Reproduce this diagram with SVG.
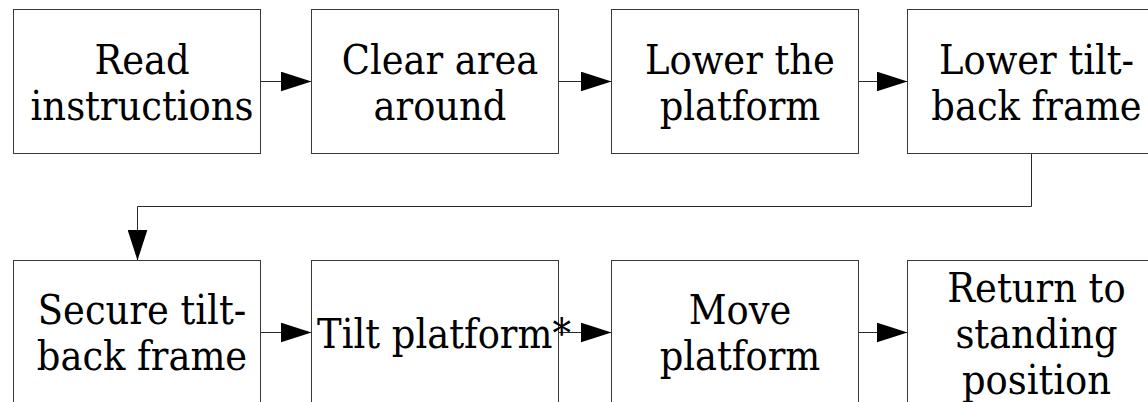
<svg xmlns="http://www.w3.org/2000/svg" width="1148" height="402" viewBox="0 0 1148 402">
  <style>
    .box { fill: #ffffff; stroke: #3a3a3a; stroke-width: 1; }
    .lbl { font-family: 'DejaVu Serif Condensed', 'DejaVu Serif', serif; font-stretch: condensed; font-size: 41px; fill: #000000; text-anchor: middle; }
    .link { fill: none; stroke: #2a2a2a; stroke-width: 1; }
  </style>
  <defs>
    <marker id="arrow" markerUnits="userSpaceOnUse" viewBox="0 0 31 20" markerWidth="31" markerHeight="20" refX="31" refY="10" orient="auto">
      <path d="M0,0 L31,10 L0,20 Z" fill="#000000"/>
    </marker>
  </defs>
  <rect width="1148" height="402" fill="#ffffff"/>

  <!-- connectors -->
  <g id="connectors">
    <path class="link" d="M260.5,81.5 H311.5" marker-end="url(#arrow)"/>
    <path class="link" d="M558.5,81.5 H611.5" marker-end="url(#arrow)"/>
    <path class="link" d="M858.5,81.5 H907.5" marker-end="url(#arrow)"/>
    <path class="link" d="M1031.5,153.5 V206.5 H137.5 V260.5" marker-end="url(#arrow)"/>
    <path class="link" d="M260.5,332.5 H311.5" marker-end="url(#arrow)"/>
    <path class="link" d="M558.5,332.5 H611.5" marker-end="url(#arrow)"/>
    <path class="link" d="M858.5,332.5 H907.5" marker-end="url(#arrow)"/>
  </g>

  <!-- top row -->
  <g id="read-instructions">
    <rect class="box" x="13.5" y="9.5" width="247" height="144"/>
    <text class="lbl" x="142" y="74">Read</text>
    <text class="lbl" x="142" y="120">instructions</text>
  </g>
  <g id="clear-area">
    <rect class="box" x="311.5" y="9.5" width="247" height="144"/>
    <text class="lbl" x="440" y="74">Clear area</text>
    <text class="lbl" x="440" y="120">around</text>
  </g>
  <g id="lower-platform">
    <rect class="box" x="611.5" y="9.5" width="247" height="144"/>
    <text class="lbl" x="740" y="74">Lower the</text>
    <text class="lbl" x="740" y="120">platform</text>
  </g>
  <g id="lower-frame">
    <rect class="box" x="907.5" y="9.5" width="247" height="144"/>
    <text class="lbl" x="1036.5" y="74">Lower tilt-</text>
    <text class="lbl" x="1036.5" y="120">back frame</text>
  </g>

  <!-- bottom row -->
  <g id="secure-frame">
    <rect class="box" x="13.5" y="260.5" width="247" height="144"/>
    <text class="lbl" x="142" y="324">Secure tilt-</text>
    <text class="lbl" x="142" y="370">back frame</text>
  </g>
  <g id="tilt-platform">
    <rect class="box" x="311.5" y="260.5" width="247" height="144"/>
    <text class="lbl" x="444" y="348">Tilt platform*</text>
  </g>
  <g id="move-platform">
    <rect class="box" x="611.5" y="260.5" width="247" height="144"/>
    <text class="lbl" x="740" y="324">Move</text>
    <text class="lbl" x="740" y="370">platform</text>
  </g>
  <g id="return-standing">
    <rect class="box" x="907.5" y="260.5" width="247" height="144"/>
    <text class="lbl" x="1036.5" y="302">Return to</text>
    <text class="lbl" x="1036.5" y="348">standing</text>
    <text class="lbl" x="1036.5" y="394">position</text>
  </g>
</svg>
